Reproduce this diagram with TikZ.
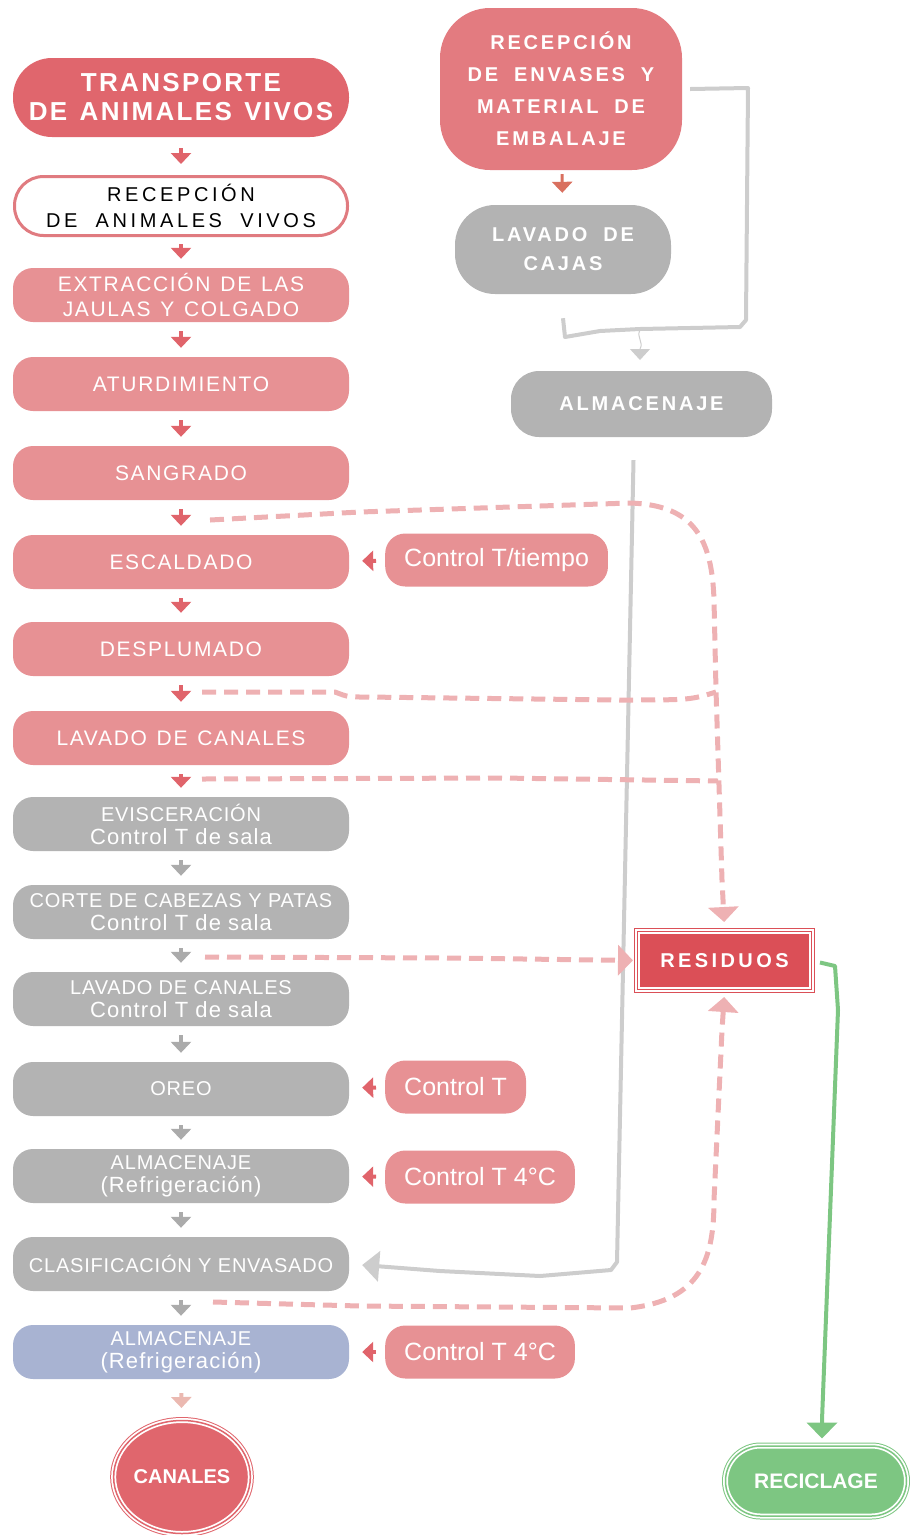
\documentclass[tikz,border=0pt]{standalone}
\usepackage{fontspec}
\setmainfont{Liberation Sans}
\newfontfamily\rosafont[LetterSpace=8,WordSpace=1.3]{Liberation Sans}
\newfontfamily\titfont[LetterSpace=9,WordSpace=1.3]{Liberation Sans}
\newfontfamily\recfont[LetterSpace=18,WordSpace=2]{Liberation Sans}
\newfontfamily\cajafont[LetterSpace=14,WordSpace=1.9]{Liberation Sans}
\newfontfamily\grisfont[LetterSpace=4]{Liberation Sans}
\newfontfamily\salafont[LetterSpace=5]{Liberation Sans}
\newfontfamily\resfont[LetterSpace=17]{Liberation Sans}
\usetikzlibrary{arrows.meta,shapes.geometric}

\definecolor{rojo}{HTML}{E0666D}
\definecolor{rosa}{HTML}{E79194}
\definecolor{rosab}{HTML}{E37B80}
\definecolor{borde}{HTML}{E07B80}
\definecolor{flecharoja}{HTML}{E0646B}
\definecolor{gris}{HTML}{B3B3B3}
\definecolor{grisflecha}{HTML}{ABABAB}
\definecolor{grisclaro}{HTML}{CDCDCD}
\definecolor{desecho}{HTML}{EEB1B3}
\definecolor{rojores}{HTML}{DB4F57}
\definecolor{verde}{HTML}{7DC682}
\definecolor{azul}{HTML}{A8B3D2}
\definecolor{salmon}{HTML}{EBB9B1}
\definecolor{teja}{HTML}{D9705F}

\newcommand\sala[1]{{\salafont\fontsize{22}{24}\selectfont#1}}

\begin{document}
\begin{tikzpicture}[x=1pt,y=-1pt,
  paso/.style={rectangle, rounded corners=20pt, minimum width=336pt, minimum height=54pt,
    inner sep=0pt, align=center, text=white},
  rosa/.style={paso, fill=rosa, font=\rosafont\fontsize{21}{25}\selectfont},
  grisbox/.style={paso, fill=gris, font=\grisfont\fontsize{20}{23}\selectfont},
  caja/.style={rectangle, inner sep=0pt, align=center, text=white,
    font=\cajafont\bfseries\fontsize{20}{32}\selectfont},
  control/.style={rectangle, rounded corners=20pt, fill=rosa, text=white, minimum height=53pt,
    inner xsep=19pt, anchor=west, font=\fontsize{25}{30}\selectfont},
  ring/.style={fill=#1, draw=white, line width=5pt, inner sep=0pt, text=white,
    preaction={draw=#1, line width=7pt}, postaction={draw=#1, line width=1.5pt}},
  flecha/.style={line width=4pt, -{Triangle[width=20pt,length=11pt]}, shorten <=9pt, shorten >=9pt},
  desech/.style={desecho, line width=5pt, dash pattern=on 14pt off 8pt},
  punta/.style={-{Triangle[width=30pt,length=15pt]}},
  gline/.style={grisclaro, line width=4pt, line join=round}
]
\useasboundingbox (0,0) rectangle (910,1535);

\node[paso, fill=rojo, rounded corners=39pt, minimum height=79pt,
  font=\titfont\bfseries\fontsize{26}{29}\selectfont]
  (transp) at (181,97.5) {TRANSPORTE\\DE ANIMALES VIVOS};
\node[paso, fill=white, draw=borde, line width=3pt, text=black, rounded corners=29pt,
  minimum width=333pt, minimum height=59pt, font=\recfont\fontsize{20}{26}\selectfont]
  (recep) at (181,206) {RECEPCIÓN\\DE ANIMALES VIVOS};
\node[rosa] (extr) at (181,295) {EXTRACCIÓN DE LAS\\JAULAS Y COLGADO};
\node[rosa] (aturd) at (181,384) {ATURDIMIENTO};
\node[rosa] (sangr) at (181,473) {SANGRADO};
\node[rosa] (escal) at (181,562) {ESCALDADO};
\node[rosa] (despl) at (181,649) {DESPLUMADO};
\node[rosa] (lavado) at (181,738) {LAVADO DE CANALES};
\node[grisbox] (evisc) at (181,824) {EVISCERACIÓN\\\sala{Control T de sala}};
\node[grisbox] (corte) at (181,912) {CORTE DE CABEZAS Y PATAS\\\sala{Control T de sala}};
\node[grisbox] (lavcan) at (181,999) {LAVADO DE CANALES\\\sala{Control T de sala}};
\node[grisbox] (oreo) at (181,1089) {OREO};
\node[grisbox] (almac) at (181,1176) {ALMACENAJE\\\sala{(Refrigeración)}};
\node[grisbox] (clasif) at (181,1264) {CLASIFICACIÓN Y ENVASADO};
\node[grisbox, fill=azul] (almfrio) at (181,1352) {ALMACENAJE\\\sala{(Refrigeración)}};
\node[ring=rojo, ellipse, minimum width=131pt, minimum height=113pt,
  font=\bfseries\fontsize{20}{24}\selectfont] (canales) at (182,1477) {CANALES};

\node[control] (ctiempo) at (385,560) {Control T/tiempo};
\node[control] (coreo) at (385,1087) {Control T};
\node[control] (calmac) at (385,1177) {Control T 4°C};
\node[control] (cfrio) at (385,1352) {Control T 4°C};

\node[caja, fill=rosab, rounded corners=50pt, minimum width=242pt, minimum height=162pt]
  (envases) at (561,89) {RECEPCIÓN\\DE ENVASES Y\\MATERIAL DE\\EMBALAJE};
\node[caja, fill=gris, rounded corners=40pt, minimum width=216pt, minimum height=89pt,
  font=\cajafont\bfseries\fontsize{20}{29}\selectfont]
  (cajas) at (563,249.5) {LAVADO DE\\CAJAS};
\node[caja, fill=gris, rounded corners=28pt, minimum width=261pt, minimum height=66pt]
  (almacr) at (641.5,404) {ALMACENAJE};

\node[ring=rojores, minimum width=174pt, minimum height=58pt,
  font=\resfont\bfseries\fontsize{20}{24}\selectfont]
  (residuos) at (724.5,960.5) {RESIDUOS};
\node[ring=verde, rounded corners=35pt, minimum width=181pt, minimum height=70pt,
  font=\bfseries\fontsize{21}{25}\selectfont] (recicla) at (816,1481) {RECICLAGE};

\draw[flecha, flecharoja, shorten <=11pt, shorten >=11pt] (transp) -- (recep);
\draw[flecha, flecharoja, shorten <=7pt, shorten >=9pt] (recep) -- (extr);
\draw[flecha, flecharoja] (extr) -- (aturd);
\draw[flecha, flecharoja] (aturd) -- (sangr);
\draw[flecha, flecharoja] (sangr) -- (escal);
\draw[flecha, flecharoja] (escal) -- (despl);
\draw[flecha, flecharoja] (despl) -- (lavado);
\draw[flecha, flecharoja] (lavado) -- (evisc);
\draw[flecha, grisflecha] (evisc) -- (corte);
\draw[flecha, grisflecha] (corte) -- (lavcan);
\draw[flecha, grisflecha] (lavcan) -- (oreo);
\draw[flecha, grisflecha] (oreo) -- (almac);
\draw[flecha, grisflecha] (almac) -- (clasif);
\draw[flecha, grisflecha] (clasif) -- (almfrio);
\draw[flecha, salmon, shorten <=14pt, shorten >=10pt] (almfrio) -- (canales);

\draw[flecha, flecharoja, shorten >=13pt] (ctiempo) -- (escal);
\draw[flecha, flecharoja, shorten >=13pt] (coreo) -- (oreo);
\draw[flecha, flecharoja, shorten >=13pt] (calmac) -- (almac);
\draw[flecha, flecharoja, shorten >=13pt] (cfrio) -- (almfrio);

\draw[flecha, teja, line width=3pt, shorten <=4pt, shorten >=12pt] (envases) -- (cajas);

\draw[gline] ([xshift=8pt]envases.east) -- (748,88) -- (746,320) -- (740,327) -- (640,329)
  -- (600,331) -- (565,337) -- ([yshift=-24pt]cajas.south);
\coordinate (union) at (640,330);
\draw[grisclaro, line width=1pt, -{Triangle[width=20pt,length=11pt]}, shorten >=11pt]
  (union) .. controls (636,337) and (644,342) .. (640,349) -- (640,371);
\draw[gline, -{Triangle[width=30pt,length=17pt]}, shorten >=13pt]
  ([xshift=-8pt,yshift=-23pt]almacr.south) -- (617,1262) -- (611,1270) -- (540,1276)
  -- (440,1271) -- (clasif.east);

\coordinate (r1) at (210,520);
\coordinate (r2) at (202,692);
\coordinate (r3) at (202,779);
\coordinate (r4) at (205,957);
\coordinate (r5) at (213,1302);
\draw[desech, punta, shorten >=7pt] (r1) -- (360,512) -- (630,503)
  .. controls (695,505) and (712,540) .. (714,600) -- (716,690) -- (722,880) -- (residuos.north);
\draw[desech] (r2) -- (335,692) .. controls (348,697) .. (365,697) -- (620,700)
  .. controls (690,700) .. (716,692);
\draw[desech] (r3) -- (500,778) -- (718,781);
\draw[desech, punta, shorten >=2pt] (r4) -- (450,958) -- (residuos.west);
\draw[desech, punta, shorten >=5pt] (r5) -- (360,1306) -- (630,1308)
  .. controls (700,1300) and (714,1260) .. (714,1200) -- (722,1030) -- (residuos.south);

\draw[verde, line width=4pt, line join=round, -{Triangle[width=30pt,length=16pt]}, shorten >=5pt]
  ([xshift=6pt,yshift=-2pt]residuos.east) -- (835,966) -- (838,1010) -- (822,1420)
  -- ([xshift=6pt]recicla.north);
\end{tikzpicture}
\end{document}
